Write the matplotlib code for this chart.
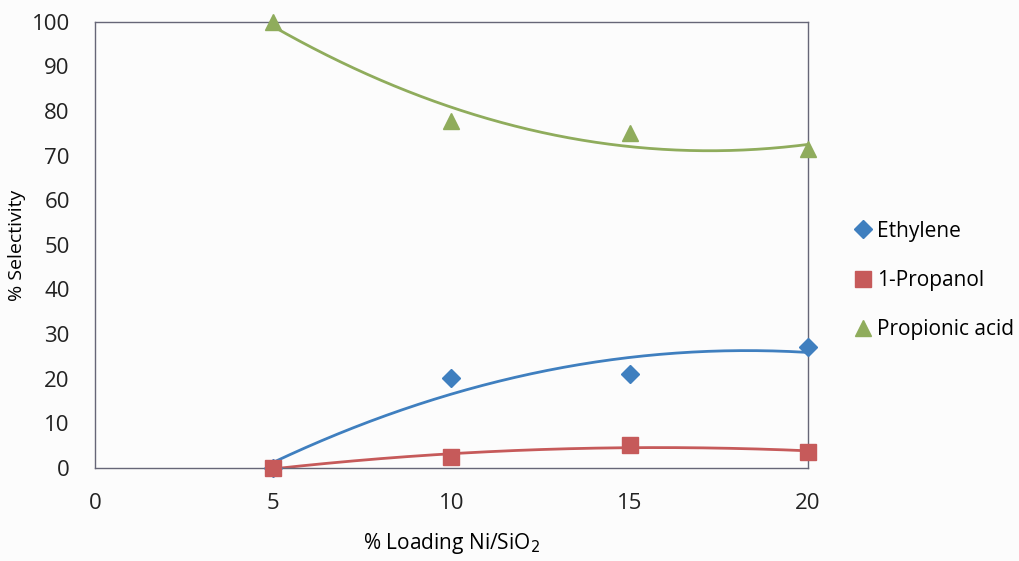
import numpy as np
import matplotlib
matplotlib.use("Agg")
import matplotlib.pyplot as plt
from matplotlib.lines import Line2D

plt.rcParams['font.family'] = ['Open Sans', 'DejaVu Sans']

loading = [5, 10, 15, 20]
ethylene = [0.0, 20.2, 21.1, 27.1]
propanol = [0.0, 2.5, 5.2, 3.6]
propionic = [100.0, 77.8, 75.1, 71.5]

series = [
    ("Ethylene", ethylene, "#3f7fbf", "D", 9),
    ("1-Propanol", propanol, "#c65a5a", "s", 11),
    ("Propionic acid", propionic, "#8fac5c", "^", 12),
]

fig = plt.figure(figsize=(10.2, 5.61), dpi=100, facecolor="#fcfcfc")
ax = fig.add_axes([0.093, 0.166, 0.699, 0.795])
ax.set_facecolor("#fcfcfc")

xs = np.linspace(5, 20, 200)
handles = []
for name, vals, color, marker, size in series:
    # second-order polynomial trend line through the points
    coef = np.polyfit(loading, vals, 2)
    ax.plot(xs, np.polyval(coef, xs), color=color, lw=2, zorder=2)
    ax.plot(loading, vals, linestyle="none", marker=marker, ms=size,
            color=color, markeredgecolor=color, zorder=3, clip_on=False)
    handles.append(Line2D([], [], linestyle="none", marker=marker, ms=size,
                          color=color, label=name))

ax.set_xlim(0, 20)
ax.set_ylim(0, 100)
ax.set_xticks([0, 5, 10, 15, 20])
ax.set_yticks(range(0, 101, 10))
ax.tick_params(length=0, labelsize=16, pad=18, colors="#222222")
ax.tick_params(axis="y", pad=18)
for sp in ax.spines.values():
    sp.set_color("#666677")
    sp.set_linewidth(1)

ax.set_ylabel("% Selectivity", fontsize=14)
ax.yaxis.set_label_coords(-0.097, 0.5)
ax.set_xlabel("% Loading Ni/SiO$_2$", fontsize=15)
ax.xaxis.set_label_coords(0.5, -0.142)

fig.legend(handles=handles, loc="upper left", bbox_to_anchor=(0.815, 0.64),
           frameon=False, fontsize=15, handletextpad=0.1, labelspacing=1.35,
           handlelength=1.2)

fig.savefig("out.png", dpi=100, facecolor=fig.get_facecolor())
